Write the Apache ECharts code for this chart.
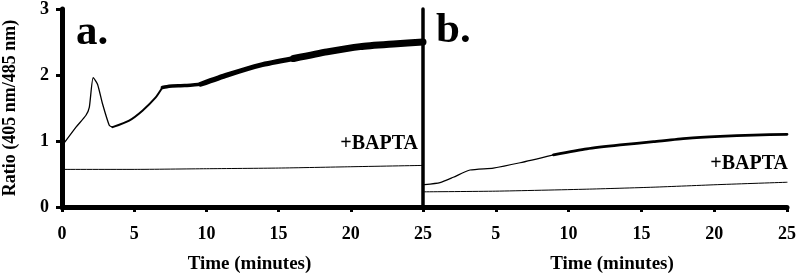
<!DOCTYPE html>
<html>
<head>
<meta charset="utf-8">
<script src="https://cdn.jsdelivr.net/npm/echarts@6/dist/echarts.min.js"></script>
<style>
html,body{margin:0;padding:0;background:#fff}
#main{width:800px;height:279px}
</style>
</head>
<body>
<div id="main"></div>
<script>
// panel a: control trace (minutes, ratio)
var timeA  = [0.05, 0.97, 1.66, 1.89, 2.16, 2.46, 2.81, 3.27, 3.5, 4.65, 5.57, 6.49, 6.95, 7.41, 8.5, 9.6, 11.44, 13.74, 16.04, 18.35, 20.65, 22.95, 25];
var ratioA = [0.94, 1.21, 1.39, 1.51, 1.96, 1.86, 1.56, 1.24, 1.21, 1.31, 1.46, 1.66, 1.81, 1.83, 1.84, 1.86, 2.0, 2.15, 2.25, 2.35, 2.43, 2.47, 2.5];
// panel a: +BAPTA trace
var timeA2  = [0, 5, 10, 15, 20, 25];
var ratioA2 = [0.57, 0.57, 0.58, 0.59, 0.61, 0.63];
// panel b
var timeB  = [0.1, 1.17, 2.08, 3.23, 4.83, 6.67, 8.96, 11.25, 13.54, 15.83, 18.1, 20.4, 22.7, 25];
var ratioB = [0.34, 0.37, 0.45, 0.56, 0.59, 0.67, 0.79, 0.88, 0.94, 0.99, 1.04, 1.07, 1.09, 1.10];
var timeB2  = [0.1, 5, 11.25, 15.8, 20.4, 25];
var ratioB2 = [0.23, 0.24, 0.27, 0.30, 0.34, 0.375];
var xTicks = [0, 5, 10, 15, 20, 25];
var yTicks = [0, 1, 2, 3];

var font = 'Liberation Serif';

function pairs(t, v, from, to) {
    var out = [];
    for (var i = 0; i < t.length; i++) {
        if (t[i] >= from && t[i] <= to) out.push([t[i], v[i]]);
    }
    return out;
}
function trace(idx, data, w) {
    return {
        type: 'line', xAxisIndex: idx, yAxisIndex: idx, data: data,
        symbol: 'none', smooth: 0.2, silent: true,
        lineStyle: {color: '#000', width: w, join: 'round', cap: 'round'}
    };
}
function xAx(idx, left) {
    return {
        type: 'value', gridIndex: idx, min: 0, max: 25, interval: 5,
        name: 'Time (minutes)', nameLocation: 'middle', nameGap: 48,
        nameTextStyle: {fontFamily: font, fontWeight: 'bold', fontSize: 19, color: '#000', padding: [0, 0, 0, 14]},
        axisLine: {lineStyle: {color: '#000', width: 5}},
        axisTick: {length: 5, lineStyle: {color: '#000', width: 3}},
        axisLabel: {
            margin: 18, fontFamily: font, fontWeight: 'bold', fontSize: 18, color: '#000',
            showMinLabel: left, showMaxLabel: true,
            formatter: function (v) { return xTicks.indexOf(v) >= 0 ? String(v) : ''; }
        },
        splitLine: {show: false}
    };
}

var chart = echarts.init(document.getElementById('main'));
chart.setOption({
    backgroundColor: '#fff',
    animation: false,
    grid: [
        {left: 61, width: 362, top: 9, height: 203},
        {left: 423, width: 364, top: 9, height: 203}
    ],
    xAxis: [xAx(0, true), xAx(1, false)],
    yAxis: [{
        type: 'value', gridIndex: 0, min: 0, max: 3, interval: 1,
        name: 'Ratio (405 nm/485 nm)', nameLocation: 'middle', nameGap: 43,
        nameTextStyle: {fontFamily: font, fontWeight: 'bold', fontSize: 18, color: '#000'},
        axisLine: {show: true, lineStyle: {color: '#000', width: 5}},
        axisTick: {show: true, length: 6, lineStyle: {color: '#000', width: 3}},
        axisLabel: {
            margin: 13, fontFamily: font, fontWeight: 'bold', fontSize: 18, color: '#000',
            formatter: function (v) { return yTicks.indexOf(v) >= 0 ? String(v) : ''; }
        },
        splitLine: {show: false}
    }, {
        type: 'value', gridIndex: 1, min: 0, max: 3, interval: 1,
        axisLine: {show: true, lineStyle: {color: '#000', width: 3.5}},
        axisTick: {show: false},
        axisLabel: {show: false},
        splitLine: {show: false}
    }],
    graphic: [
        {type: 'text', left: 76, top: 11, style: {text: 'a.', font: 'bold 43px "Liberation Serif"', fill: '#000'}},
        {type: 'text', left: 436, top: 9, style: {text: 'b.', font: 'bold 43px "Liberation Serif"', fill: '#000'}},
        {type: 'text', right: 382, top: 134, style: {text: '+BAPTA', font: 'bold 20px "Liberation Serif"', fill: '#000'}},
        {type: 'text', right: 12, top: 154, style: {text: '+BAPTA', font: 'bold 20px "Liberation Serif"', fill: '#000'}}
    ],
    series: [
        trace(0, pairs(timeA, ratioA, 0, 3.5), 1.3),
        trace(0, pairs(timeA, ratioA, 3.5, 7.0), 2),
        trace(0, pairs(timeA, ratioA, 6.9, 9.6), 3.5),
        trace(0, pairs(timeA, ratioA, 9.6, 16.1), 5),
        trace(0, pairs(timeA, ratioA, 16.0, 25), 7),
        trace(0, pairs(timeA2, ratioA2, 0, 25), 1),
        trace(1, pairs(timeB, ratioB, 0, 9), 1.2),
        trace(1, pairs(timeB, ratioB, 8.9, 25), 2.8),
        trace(1, pairs(timeB2, ratioB2, 0, 25), 1)
    ]
});
</script>
</body>
</html>
